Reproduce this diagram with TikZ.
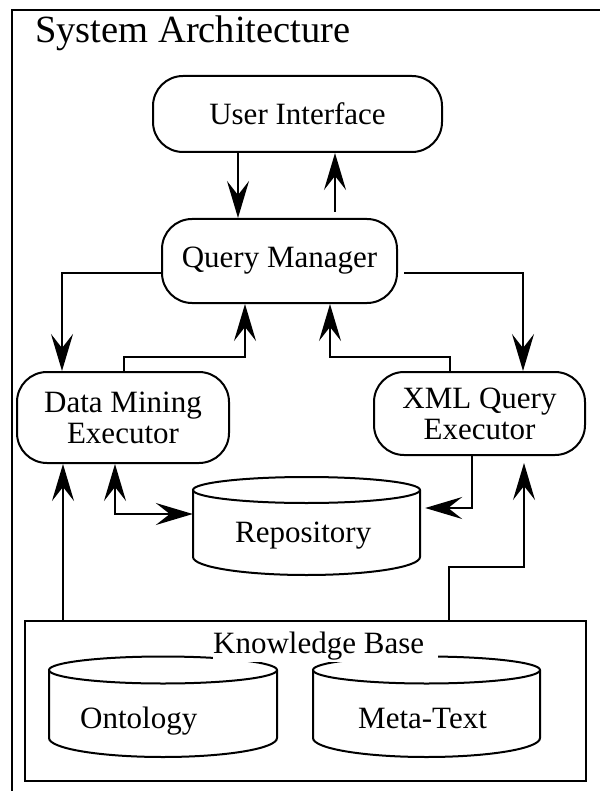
\documentclass[tikz,border=0pt]{standalone}
\usepackage{fontspec}
\setmainfont{Liberation Serif}
\usetikzlibrary{arrows.meta}
\newcommand\nodefont{\fontsize{31}{31}\selectfont}
\newcommand\titlefont{\fontsize{38.5}{40}\selectfont}
% #1 left x, #2 right x, #3 top ellipse centre y, #4 top ry, #5 side bottom y, #6 bottom ry
\newcommand\drawcyl[6]{%
  \pgfmathsetmacro\cylcx{(#1+#2)/2}%
  \pgfmathsetmacro\cylrx{(#2-#1)/2}%
  \draw[cylline] (\cylcx,#3) ellipse [x radius=\cylrx, y radius=#4];
  \draw[cylline] (#1,#3) -- (#1,#5)
    .. controls (#1,#5+0.5523*#6) and (\cylcx-0.5523*\cylrx,#5+#6) .. (\cylcx,#5+#6)
    .. controls (\cylcx+0.5523*\cylrx,#5+#6) and (#2,#5+0.5523*#6) .. (#2,#5) -- (#2,#3);
}
\tikzset{
  cylline/.style={line width=2pt},
  box/.style={draw, line width=2pt, rounded corners=30pt, inner sep=0pt, align=center, font=\nodefont},
  arr/.style={line width=2pt, -{Stealth[length=37pt,width=22pt,inset=14pt]}},
  arrboth/.style={line width=2pt, {Stealth[length=37pt,width=22pt,inset=14pt]}-{Stealth[length=37pt,width=22pt,inset=14pt]}},
  lbl/.style={inner sep=0pt, font=\nodefont}
}
\begin{document}
\begin{tikzpicture}[x=1pt,y=-1pt]
\useasboundingbox (0,0) rectangle (599,791);
% outer frame
\draw[line width=2.5pt] (12,820) -- (12,10) -- (630,10);
\node[anchor=base west, font=\titlefont, inner sep=0pt] (title) at (35,43) {System Architecture};

% main nodes
\node[box, minimum width=289pt, minimum height=76pt] (ui) at (297.5,114) {User Interface};
\node[box, minimum width=235pt, minimum height=84pt] (qm) at (279.5,261) {Query Manager};
\node[box, minimum width=212pt, minimum height=91pt] (dm) at (123,417.5) {Data Mining\\Executor};
\node[box, minimum width=211pt, minimum height=83pt] (xml) at (479.5,413.5) {XML Query\\Executor};

% repository
\drawcyl{193}{420}{490}{13}{557}{18}
\node[inner sep=0pt, minimum width=227pt, minimum height=99pt] (rep) at (306.5,526.5) {};
\node[lbl, anchor=base west] (replabel) at (235,542) {Repository};

% knowledge base
\node[draw, line width=2pt, inner sep=0pt, minimum width=561pt, minimum height=160pt] (kb) at (305.5,701) {};
\drawcyl{49}{277}{670}{13.5}{738}{19}
\drawcyl{313}{540}{670}{13.5}{738}{19}
\node[lbl, anchor=base west] (ont) at (80,728) {Ontology};
\node[lbl, anchor=base west] (meta) at (358,728) {Meta-Text};
\node[lbl, fill=white, inner ysep=2pt, anchor=base west] (kblabel) at (213,653) {Knowledge Base\hspace*{14pt}};

% connectors
\draw[arr] (ui.south -| 238,0) -- (qm.north -| 238,0);
\draw[arr, shorten <=6pt] (qm.north -| 335,0) -- (ui.south -| 335,0);
\draw[arr] ([yshift=-12pt]qm.west) -| (dm.north -| 62,0);
\draw[arr, shorten <=6pt] ([yshift=-12pt]qm.east) -| (xml.north -| 523,0);
\draw[arr] (dm.north -| 124,0) |- (245,357) -- (qm.south -| 245,0);
\draw[arr] (xml.north -| 450,0) |- (330,357) -- (qm.south -| 330,0);
\draw[arrboth] (dm.south -| 115,0) |- (rep.west |- 0,514);
\draw[arr, shorten >=5pt] (xml.south -| 472,0) |- (rep.east |- 0,508);
\draw[arr] (kb.north -| 63,0) -- (dm.south -| 63,0);
\draw[arr, shorten >=7pt] (kb.north -| 449,0) |- (524,567) -- (xml.south -| 524,0);
\end{tikzpicture}
\end{document}
